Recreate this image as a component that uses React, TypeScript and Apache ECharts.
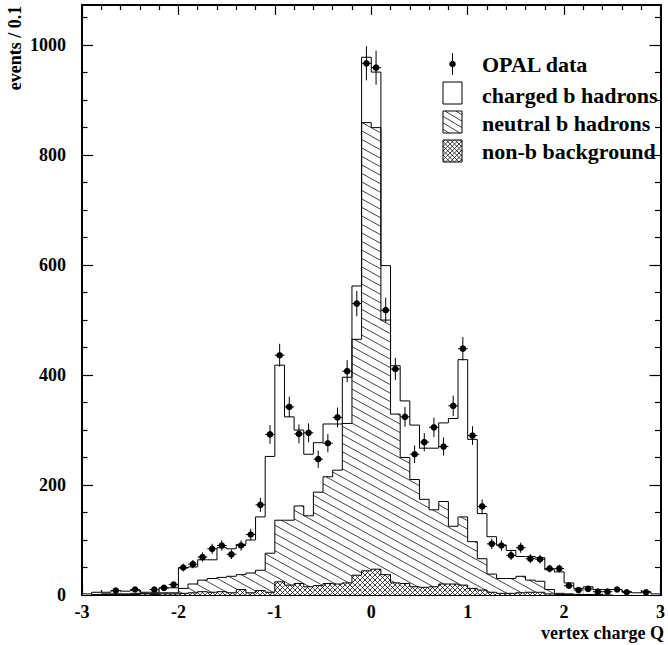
import React, { useEffect, useRef } from 'react';
import * as echarts from 'echarts';

// lower edge of each 0.1-wide bin of vertex charge Q
const binLow = [-3.0, -2.9, -2.8, -2.7, -2.6, -2.5, -2.4, -2.3, -2.2, -2.1,
  -2.0, -1.9, -1.8, -1.7, -1.6, -1.5, -1.4, -1.3, -1.2, -1.1,
  -1.0, -0.9, -0.8, -0.7, -0.6, -0.5, -0.4, -0.3, -0.2, -0.1,
  0.0, 0.1, 0.2, 0.3, 0.4, 0.5, 0.6, 0.7, 0.8, 0.9,
  1.0, 1.1, 1.2, 1.3, 1.4, 1.5, 1.6, 1.7, 1.8, 1.9,
  2.0, 2.1, 2.2, 2.3, 2.4, 2.5, 2.6, 2.7, 2.8, 2.9];

const opalData = [null, null, null, 8, null, 10, null, 10, 13, 19,
  50, 56, 69, 84, 90, 74, 90, 110, 164, 292,
  436, 342, 293, 295, 247, 276, 323, 407, 530, 967,
  959, 518, 411, 324, 256, 278, 305, 270, 344, 448,
  290, 161, 93, 90, 72, 86, 66, 65, 48, 48,
  17, 9, 11, 6, 6, 10, 5, null, 5, null];

const chargedTotal = [2, 5, 5, 8, 7, 8, 5, 5, 13, 13,
  49, 51, 64, 64, 86, 84, 92, 100, 142, 252,
  418, 324, 300, 256, 277, 311, 311, 396, 562, 978,
  951, 599, 417, 353, 309, 267, 267, 313, 321, 428,
  283, 148, 106, 91, 81, 70, 70, 68, 46, 42,
  22, 12, 15, 10, 10, 10, 6, 4, 6, 2];

const neutralB = [0, 1, 2, 2, 2, 3, 3, 3, 4, 4,
  12, 20, 27, 30, 32, 34, 37, 40, 45, 76,
  136, 136, 162, 144, 187, 215, 227, 312, 465, 859,
  850, 500, 329, 250, 210, 174, 155, 170, 125, 142,
  97, 66, 38, 30, 30, 34, 27, 25, 10, 3,
  2, 1, 1, 1, 0, 0, 0, 0, 0, 0];

const nonBBackground = [0, 0, 1, 1, 1, 1, 2, 1, 2, 2,
  3, 4, 6, 5, 6, 4, 10, 4, 8, 5,
  24, 18, 21, 15, 17, 21, 20, 22, 36, 44,
  47, 37, 22, 21, 15, 14, 15, 20, 20, 18,
  12, 9, 5, 3, 3, 4, 5, 5, 2, 1,
  1, 1, 0, 0, 0, 0, 0, 0, 0, 0];

const yMajorTicks = [0, 200, 400, 600, 800, 1000];
const yMinorTicks = [50, 100, 150, 250, 300, 350, 450, 500, 550, 650, 700, 750, 850, 900, 950, 1050];
const legendLabels = ['OPAL data', 'charged b hadrons', 'neutral b hadrons', 'non-b background'];

const BIN = 0.1;
const FONT = "'Liberation Serif', 'Times New Roman', serif";

type Seg = [number, number, number, number];
function hatchSegments(xa: number, xb: number, yt: number, yb: number, slope: number, spacing: number): Seg[] {
  const segs: Seg[] = [];
  const cs = [yt - slope * xa, yt - slope * xb, yb - slope * xa, yb - slope * xb];
  const cmin = Math.min(...cs), cmax = Math.max(...cs);
  const k0 = Math.ceil(cmin / spacing), k1 = Math.floor(cmax / spacing);
  for (let k = k0; k <= k1; k++) {
    const c = k * spacing;
    const x1 = (yt - c) / slope, x2 = (yb - c) / slope;
    const lo = Math.max(xa, Math.min(x1, x2));
    const hi = Math.min(xb, Math.max(x1, x2));
    if (hi - lo > 0.05) segs.push([lo, slope * lo + c, hi, slope * hi + c]);
  }
  return segs;
}
function segPath(segs: Seg[]): string {
  return segs.map(s => `M${s[0].toFixed(2)} ${s[1].toFixed(2)}L${s[2].toFixed(2)} ${s[3].toFixed(2)}`).join('');
}

type Kind = 'plain' | 'hatch' | 'cross';
function histSeries(values: number[], kind: Kind, z: number) {
  const data = binLow.map((x, i) => [x, values[i], i > 0 ? values[i - 1] : 0, i === binLow.length - 1 ? 1 : 0]);
  return {
    type: 'custom',
    coordinateSystem: 'cartesian2d',
    z,
    silent: true,
    data,
    renderItem: (params: any, api: any) => {
      const x0 = api.value(0), v = api.value(1), pv = api.value(2), last = api.value(3);
      if (!v && !pv) return null;
      const a = api.coord([x0, v]);
      const b = api.coord([x0 + BIN, 0]);
      const c = api.coord([x0, pv]);
      const children: any[] = [];
      if (v > 0) {
        if (kind !== 'hatch') {
          children.push({ type: 'rect', shape: { x: a[0], y: a[1], width: b[0] - a[0], height: b[1] - a[1] }, style: { fill: '#fff' } });
        }
        let segs: Seg[] = [];
        if (kind === 'hatch') segs = hatchSegments(a[0], b[0], a[1], b[1], 0.55, 8.5);
        if (kind === 'cross') segs = hatchSegments(a[0], b[0], a[1], b[1], 1, 5).concat(hatchSegments(a[0], b[0], a[1], b[1], -1, 5));
        if (segs.length) {
          children.push({ type: 'path', shape: { pathData: segPath(segs) }, style: { fill: null, stroke: '#111', lineWidth: 0.8 } });
        }
      }
      let d = `M${a[0]} ${c[1]}L${a[0]} ${a[1]}L${b[0]} ${a[1]}`;
      if (last) d += `L${b[0]} ${b[1]}`;
      children.push({ type: 'path', shape: { pathData: d }, style: { fill: null, stroke: '#000', lineWidth: 1 } });
      return { type: 'group', children };
    },
  };
}

function txt(x: number, y: number, text: string, size: number, align: string, extra: any = {}) {
  return {
    type: 'text', x, y, ...extra,
    style: { text, fontSize: size, fontWeight: 'bold', fontFamily: FONT, fill: '#000', align, verticalAlign: 'middle' },
  };
}

function legendGraphics() {
  const els: any[] = [];
  const bx = 443, bw = 19, bh = 22;
  // data marker
  els.push({ type: 'line', shape: { x1: 452.5, y1: 53, x2: 452.5, y2: 75 }, style: { stroke: '#000', lineWidth: 1 } });
  els.push({ type: 'circle', shape: { cx: 452.5, cy: 64, r: 3.3 }, style: { fill: '#000' } });
  const boxes: [number, Kind][] = [[82, 'plain'], [111, 'hatch'], [140, 'cross']];
  boxes.forEach(([y, kind]) => {
    els.push({ type: 'rect', shape: { x: bx, y, width: bw, height: bh }, style: { fill: '#fff', stroke: '#000', lineWidth: 1 } });
    let segs: Seg[] = [];
    if (kind === 'hatch') segs = hatchSegments(bx, bx + bw, y, y + bh, 0.6, 6.5);
    if (kind === 'cross') segs = hatchSegments(bx, bx + bw, y, y + bh, 1, 4.5).concat(hatchSegments(bx, bx + bw, y, y + bh, -1, 4.5));
    segs.forEach(s => els.push({ type: 'line', shape: { x1: s[0], y1: s[1], x2: s[2], y2: s[3] }, style: { stroke: '#111', lineWidth: 0.8 } }));
  });
  const ys = [64, 95, 123.5, 151];
  legendLabels.forEach((t, i) => els.push(txt(482, ys[i], t, 22, 'left')));
  // axis titles
  els.push(txt(664, 633, 'vertex charge Q', 18, 'right'));
  els.push(txt(15, 48, 'events / 0.1', 18, 'center', { rotation: Math.PI / 2 }));
  return els;
}

export default function App() {
  const ref = useRef<HTMLDivElement>(null);
  useEffect(() => {
    document.body.style.margin = '0';
    const chart = echarts.init(ref.current!, undefined, { renderer: 'svg' });
    const line = { color: '#000', width: 2 };
    const tickLine = { color: '#000', width: 1.2 };
    const labelStyle = { fontSize: 18, fontWeight: 'bold' as const, fontFamily: FONT, color: '#000' };
    const yAx = (pos: string, ticks: number[], len: number, labels: boolean) => ({
      type: 'value', min: 0, max: 1073, position: pos,
      axisLine: { show: true, onZero: false, lineStyle: line },
      axisTick: { show: true, inside: true, length: len, customValues: ticks, lineStyle: tickLine },
      axisLabel: labels ? { show: true, customValues: ticks, margin: 16, formatter: (v: number) => String(v), ...labelStyle } : { show: false },
      splitLine: { show: false },
    });
    const xAx = (pos: string, labels: boolean) => ({
      type: 'value', min: -3, max: 3, interval: 1, position: pos,
      axisLine: { show: true, onZero: false, lineStyle: line },
      axisTick: { show: true, inside: true, length: 10, lineStyle: tickLine },
      minorTick: { show: true, splitNumber: 5, length: 5, lineStyle: tickLine },
      axisLabel: labels ? { show: true, margin: 8, formatter: (v: number) => String(v), ...labelStyle } : { show: false },
      splitLine: { show: false },
      minorSplitLine: { show: false },
    });
    const dataItems = binLow.map((x, i) => [x, opalData[i]]).filter(d => d[1] != null);
    chart.setOption({
      animation: false,
      grid: { left: 82, right: 2, top: 5, bottom: 50, containLabel: false },
      xAxis: [xAx('bottom', true), xAx('top', false)],
      yAxis: [yAx('left', yMajorTicks, 11, true), yAx('left', yMinorTicks, 5.5, false), yAx('right', yMajorTicks, 11, false), yAx('right', yMinorTicks, 5.5, false)],
      series: [
        histSeries(chargedTotal, 'plain', 1),
        histSeries(neutralB, 'hatch', 2),
        histSeries(nonBBackground, 'cross', 3),
        {
          type: 'custom', coordinateSystem: 'cartesian2d', z: 5, silent: true,
          data: dataItems,
          renderItem: (params: any, api: any) => {
            const x0 = api.value(0), v = api.value(1);
            const err = Math.sqrt(v);
            const xc = x0 + BIN / 2;
            const p = api.coord([xc, v]);
            const top = api.coord([xc, v + err]);
            const bot = api.coord([xc, Math.max(0, v - err)]);
            const l = api.coord([x0, v]);
            const r = api.coord([x0 + BIN, v]);
            return {
              type: 'group', children: [
                { type: 'line', shape: { x1: p[0], y1: top[1], x2: p[0], y2: bot[1] }, style: { stroke: '#000', lineWidth: 1 } },
                { type: 'line', shape: { x1: l[0], y1: p[1], x2: r[0], y2: p[1] }, style: { stroke: '#000', lineWidth: 1 } },
                { type: 'circle', shape: { cx: p[0], cy: p[1], r: 3.3 }, style: { fill: '#000' } },
              ],
            };
          },
        },
      ],
      graphic: legendGraphics(),
    });
    return () => chart.dispose();
  }, []);
  return <div ref={ref} style={{ width: 668, height: 645 }} />;
}
